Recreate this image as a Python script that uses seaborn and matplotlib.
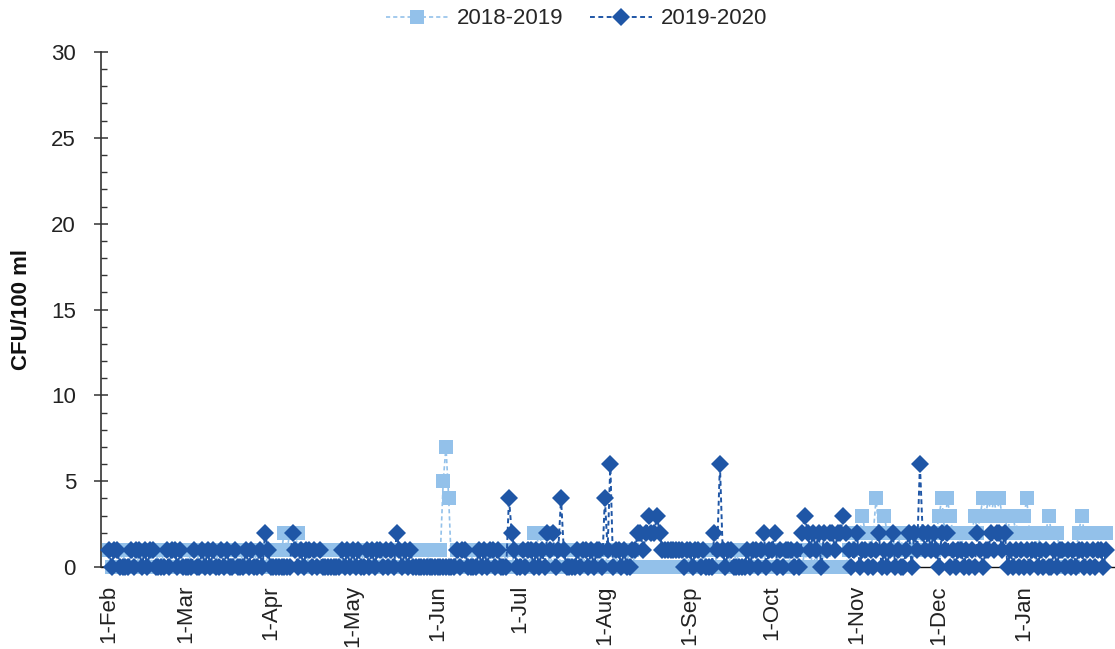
import numpy as np
import pandas as pd
import matplotlib
matplotlib.use("Agg")
import matplotlib.pyplot as plt
import matplotlib.dates as mdates
from matplotlib.lines import Line2D
from matplotlib.ticker import MultipleLocator, FixedLocator
import seaborn as sns

# Daily CFU/100 ml counts, Feb through Jan, one list per month
feb_1819 = [1,0,1,1,0,1,0,1,1,0,1,0,1,1,0,1,0,0,1,0,1,1,0,1,0,1,1,0]
mar_1819 = [0,1,0,1,1,0,1,0,1,0,1,1,0,1,0,1,0,1,1,0,1,0,1,0,1,1,0,1,0,1,0]
apr_1819 = [0,0,0,1,1,2,1,2,2,1,2,1,0,1,0,0,1,0,1,1,1,1,1,0,0,1,0,1,0,0]
may_1819 = [0,1,0,0,1,0,1,0,0,1,0,1,0,0,1,0,1,0,0,1,0,0,1,1,1,1,1,1,0,1,1]
jun_1819 = [1,1,5,7,4,0,0,1,0,0,1,0,1,0,0,1,0,0,1,0,1,0,0,1,0,1,0,0,1,0]
jul_1819 = [0,1,0,1,0,2,2,1,2,2,1,0,1,0,1,0,0,1,0,1,0,0,1,0,1,0,1,0,0,1,0]
aug_1819 = [1,0,0,1,0,1,0,0,1,0,1,0,0,0,0,0,0,0,0,0,0,0,0,0,0,0,0,0,0,0,1]
sep_1819 = [0,1,0,0,1,0,1,0,0,1,0,0,1,0,1,0,0,1,0,1,1,1,1,0,1,0,0,1,0,1]
oct_1819 = [1,0,1,0,0,1,0,1,0,1,0,0,1,0,0,1,0,1,0,1,0,0,0,0,0,0,0,0,1,1,2]
nov_1819 = [2,2,3,2,2,1,2,4,2,2,3,2,2,1,2,2,1,2,2,2,1,2,2,2,1,2,2,2,1,2]
dec_1819 = [3,4,2,4,3,2,2,2,1,2,2,2,2,3,2,3,4,3,4,3,4,3,4,3,3,2,3,3,2,3,3]
jan_1819 = [3,4,2,2,2,1,2,2,2,3,2,2,2,1,1,0,1,1,0,1,2,3,2,2,2,2,2,2,2,2,2]

feb_1920 = [1,0,1,1,0,0,0,0,1,0,1,1,0,1,0,1,1,0,0,0,0,1,0,1,1,0,1,0]
mar_1920 = [0,0,0,1,0,0,1,0,1,0,1,0,0,1,0,1,0,0,1,0,0,0,1,0,1,0,0,1,0,2,1]
apr_1920 = [0,0,0,0,0,0,0,0,2,1,0,1,0,1,1,0,1,0,1,0,0,0,0,0,0,0,1,0,1,0]
may_1920 = [1,0,1,0,0,1,0,1,0,1,1,0,1,0,1,0,2,1,0,1,0,1,0,0,0,0,0,0,0,0,0]
jun_1920 = [0,0,0,0,0,0,0,1,0,1,1,0,0,0,0,1,0,1,0,1,1,0,1,0,0,0,4,2,1,0]
jul_1920 = [0,1,0,1,1,0,1,0,1,0,2,1,2,0,1,4,1,0,0,0,0,1,0,1,1,0,1,0,1,1,0]
aug_1920 = [4,1,6,0,1,1,0,1,0,0,1,1,2,2,1,2,3,2,2,3,2,1,1,1,1,1,1,1,1,0,1]
sep_1920 = [1,0,1,1,0,1,0,0,0,2,1,6,1,0,1,1,0,0,0,0,0,1,0,1,1,0,1,2,0,1]
oct_1920 = [1,2,0,1,0,1,1,1,0,1,0,2,3,2,1,2,1,2,0,2,1,2,2,1,2,2,3,2,1,0,1]
nov_1920 = [2,0,1,1,0,1,0,1,2,0,1,0,1,2,0,1,0,0,1,2,0,2,1,6,2,1,2,1,2,1]
dec_1920 = [0,2,1,2,0,1,0,1,1,0,1,0,1,0,2,1,0,1,1,2,1,2,2,1,2,0,1,0,1,0,1]
jan_1920 = [0,1,0,1,1,0,1,0,1,0,0,1,0,1,1,0,1,0,1,0,1,1,0,1,0,1,0,1,1,0,1]

series_labels = ["2018-2019", "2019-2020"]

values_1819 = (feb_1819 + mar_1819 + apr_1819 + may_1819 + jun_1819 + jul_1819
               + aug_1819 + sep_1819 + oct_1819 + nov_1819 + dec_1819 + jan_1819)
values_1920 = (feb_1920 + mar_1920 + apr_1920 + may_1920 + jun_1920 + jul_1920
               + aug_1920 + sep_1920 + oct_1920 + nov_1920 + dec_1920 + jan_1920)

# Both seasons share one Feb-Jan calendar axis
days = pd.date_range("2019-02-01", periods=len(values_1819), freq="D")
df = pd.DataFrame({"day": days, "a": values_1819, "b": values_1920})
month_starts = pd.date_range("2019-02-01", "2020-01-01", freq="MS")

sns.set_theme(style="white")
plt.rcParams["font.family"] = ["Liberation Sans", "DejaVu Sans"]

light = "#93C1EA"
dark = "#1F56A6"
dash = (0, (2.5, 1.8))

fig = plt.figure(figsize=(11.15, 6.49), dpi=100)
ax = fig.add_axes([101 / 1115, 82 / 649, 1014 / 1115, 515 / 649])

sns.lineplot(data=df, x="day", y="a", ax=ax, color=light, linestyle=dash,
             linewidth=1.2, marker="s", markersize=10.5, markeredgewidth=0,
             markerfacecolor=light, clip_on=False, zorder=2)
sns.lineplot(data=df, x="day", y="b", ax=ax, color=dark, linestyle=dash,
             linewidth=1.4, marker="D", markersize=9, markeredgewidth=0,
             markerfacecolor=dark, clip_on=False, zorder=3)

ax.set_xlim(pd.Timestamp("2019-01-29 02:00"), pd.Timestamp("2020-02-03 05:00"))
ax.set_ylim(0, 30)
ax.yaxis.set_major_locator(MultipleLocator(5))
ax.yaxis.set_minor_locator(MultipleLocator(1))
ax.xaxis.set_major_locator(FixedLocator(mdates.date2num(month_starts)))
ax.xaxis.set_major_formatter(mdates.DateFormatter("%-d-%b"))

ax.tick_params(axis="y", which="major", direction="inout", length=10, width=1.1,
               color="#333333", labelsize=16, pad=13, left=True)
ax.tick_params(axis="y", which="minor", direction="in", length=4, width=1.0,
               color="#333333", left=True)
ax.tick_params(axis="x", which="both", length=0, labelsize=16, pad=13,
               labelrotation=90)
for lab in ax.get_yticklabels() + ax.get_xticklabels():
    lab.set_color("#222222")

ax.set_xlabel("")
ax.set_ylabel("CFU/100 ml", fontsize=16, fontweight="bold", color="#111111",
              labelpad=14)

for side in ("top", "right"):
    ax.spines[side].set_visible(False)
ax.spines["left"].set_color("#333333")
ax.spines["left"].set_linewidth(1.2)
ax.spines["bottom"].set_color("#111111")
ax.spines["bottom"].set_linewidth(1.0)
ax.spines["bottom"].set_zorder(1)
ax.grid(False)

handles = [
    Line2D([], [], color=light, linestyle=dash, linewidth=1.2,
           marker="s", markersize=10.5, markeredgewidth=0),
    Line2D([], [], color=dark, linestyle=dash, linewidth=1.4,
           marker="D", markersize=9, markeredgewidth=0),
]
fig.legend(handles, series_labels, loc="center", bbox_to_anchor=(0.517, 0.971),
           ncol=2, frameon=False, fontsize=16, handlelength=2.8,
           columnspacing=1.2, handletextpad=0.4)

fig.savefig("out.png", dpi=100)
